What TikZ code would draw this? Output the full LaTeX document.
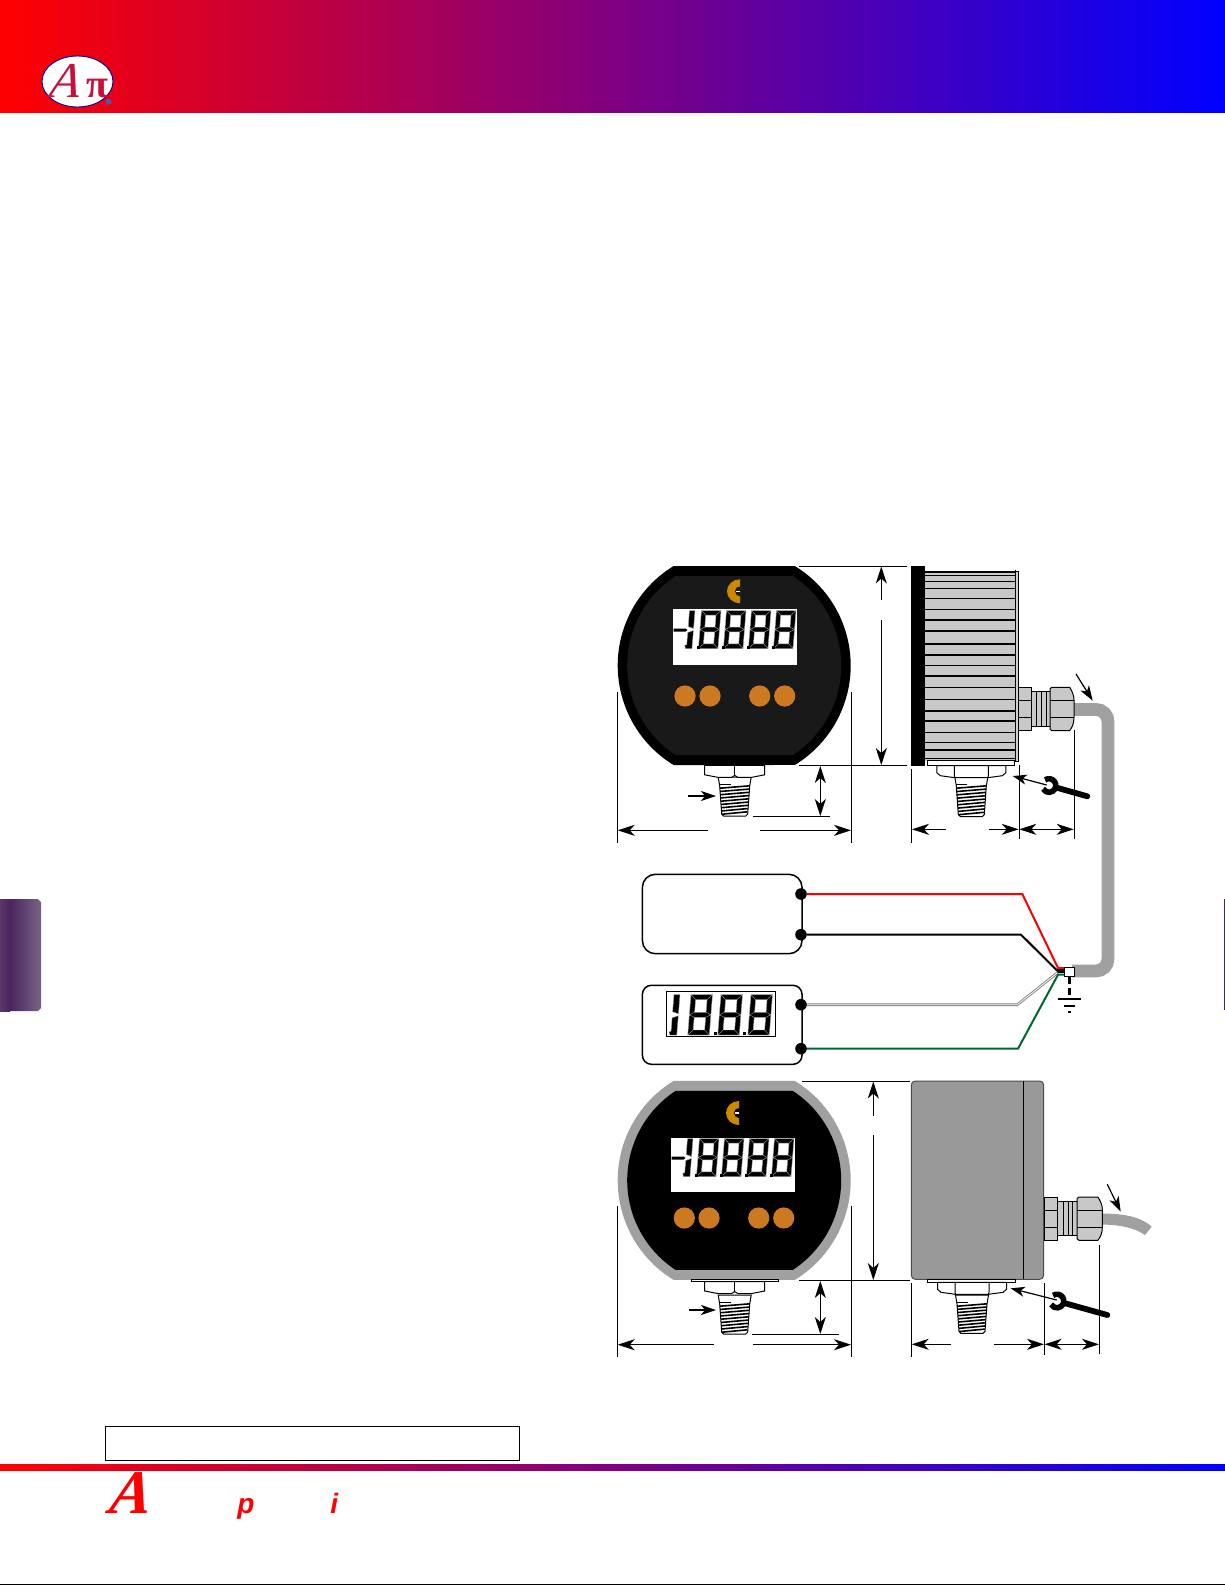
\documentclass[tikz,border=0pt]{standalone}
\usepackage{fontspec}
\setmainfont{Liberation Serif}
\setsansfont{Liberation Sans}
\usetikzlibrary{arrows.meta,calc}
\definecolor{btn}{HTML}{CB7A22}
\definecolor{icon}{HTML}{CC8800}
\definecolor{fin}{HTML}{C8C8C8}
\definecolor{cable}{HTML}{A0A0A0}
\definecolor{wgreen}{HTML}{006633}
\definecolor{crim}{HTML}{C8103C}
\definecolor{purpA}{HTML}{5A3868}
\definecolor{purpB}{HTML}{4A2460}
\definecolor{purpC}{HTML}{7A6385}
\definecolor{regmark}{HTML}{4A5AA8}
\tikzset{
  thin1/.style={line width=0.5pt,draw=black},
  dimline/.style={line width=0.5pt,draw=black},
  dimtip/.style={dimline,-{Stealth[length=8.5pt,width=5.5pt,inset=2.5pt]}},
  dimboth/.style={dimline,{Stealth[length=8.5pt,width=5.5pt,inset=2.5pt]}-{Stealth[length=8.5pt,width=5.5pt,inset=2.5pt]}},
  ptrtip/.style={line width=0.6pt,draw=black,-{Stealth[length=7.5pt,width=5pt,inset=2pt]}},
  dotnode/.style={circle,fill=black,inner sep=0pt,minimum size=5.8pt},
  boxnode/.style={draw=black,line width=0.75pt,fill=white,inner sep=0pt,outer sep=0pt},
  wire/.style={line width=1pt,line join=miter},
  part/.style={draw=black,line width=0.5pt,fill=white},
  grey part/.style={draw=black,line width=0.5pt,fill=fin},
}
% meter body: cx cy radius halfflat-distance fill
\newcommand{\meterbody}[5]{%
  \pgfmathsetmacro\mang{asin(#4/#3)}%
  \pgfmathsetmacro\mhc{#3*cos(\mang)}%
  \pgfmathsetmacro\mrr{#3*0.5}%
  \fill[#5] ({#1-\mhc},{#2-#4}) -- ({#1+\mhc},{#2-#4})
    arc[start angle=\mang,end angle=-\mang,radius=\mrr pt]
    -- ({#1-\mhc},{#2+#4})
    arc[start angle=180+\mang,end angle=180-\mang,radius=\mrr pt] -- cycle;}
% seven segment digit: x y w h t
\newcommand{\segdig}[5]{%
  \begin{scope}[shift={(#1,#2)},xslant=0.08]
  \pgfmathsetmacro\wa{#3-#5}\pgfmathsetmacro\ha{#4-#5}\pgfmathsetmacro\hm{#4/2}
  \pgfmathsetmacro\hu{#4/2-#5/2}\pgfmathsetmacro\hl{#4/2+#5/2}
  \filldraw[fill=black,draw=gray!70,line width=0.2pt]
   (0,0)--(#3,0)--(\wa,#5)--(#5,#5)--cycle
   (0,#4)--(#3,#4)--(\wa,\ha)--(#5,\ha)--cycle
   (0,0)--(#5,#5)--(#5,\hu)--(0,\hm)--cycle
   (0,\hm)--(#5,\hl)--(#5,\ha)--(0,#4)--cycle
   (#3,0)--(\wa,#5)--(\wa,\hu)--(#3,\hm)--cycle
   (#3,\hm)--(\wa,\hl)--(\wa,\ha)--(#3,#4)--cycle
   (0,\hm)--(#5,\hu)--(\wa,\hu)--(#3,\hm)--(\wa,\hl)--(#5,\hl)--cycle;
  \end{scope}}
% one-digit: x y h t
\newcommand{\segone}[4]{%
  \begin{scope}[shift={(#1,#2)},xslant=0.08]
  \pgfmathsetmacro\hm{#3/2}
  \filldraw[fill=black,draw=gray!70,line width=0.2pt]
   (3,0)--(3+#4,0)--(3+#4,\hm-1)--(3,\hm-3)--cycle
   (3,\hm+3)--(3+#4,\hm+1)--(3+#4,#3)--(2,#3)--(1,#3-3)--(3,#3-4)--cycle;
  \end{scope}}
% LCD block: x offset y
\newcommand{\lcd}[2]{%
  \begin{scope}[shift={(#1,#2)}]
  \fill (0,18.5) -- (12,18.5) -- (14,20) -- (12,21.5) -- (0,21.5) -- cycle;
  \segone{13}{0.5}{38}{5.5}
  \foreach \dx in {28,53,78,103}{\segdig{\dx}{0.5}{19.5}{38}{4.6}}
  \foreach \dx in {23.5,48.5,73.5,98.5}{\fill (\dx,36) rectangle +(2.6,2.6);}
  \end{scope}}
% C icon
\newcommand{\cicon}[3]{%
  \begin{scope}[shift={(#1,#2)}]
  \fill[icon] (0,-12) arc[start angle=90,end angle=270,x radius=6.5pt,y radius=6pt] -- cycle;
  \fill[#3] (0,-5) arc[start angle=90,end angle=270,radius=2.5pt] -- cycle;
  \fill[white] (-4.5,-0.7) rectangle (0,0.7);
  \end{scope}}
% thread: centre x, top y, bottom y
\newcommand{\thread}[3]{%
  \begin{scope}[shift={(#1,#2)}]
  \pgfmathsetmacro\tl{#3-#2}
  \filldraw[part] (-16.5,-9) -- (16.5,-9) -- (15,0) -- (13,\tl-2) -- (11,\tl) -- (-11,\tl) -- (-13,\tl-2) -- (-15,0) -- cycle;
  \foreach \k in {0,...,8}{
    \pgfmathsetmacro\ya{1+\k*(\tl-4)/8}
    \pgfmathsetmacro\hw{15-\k*0.28}
    \draw[line width=0.8pt] (-\hw,\ya+1.2) -- (\hw,\ya-1.2);}
  \draw[line width=0.45pt] (-15,-2) -- (-4,-2);
  \end{scope}}
% front nut: centre x, top y
\newcommand{\frontnut}[2]{%
  \begin{scope}[shift={(#1,#2)}]
  \filldraw[part] (-30,0) -- (-30,9.5) -- (-17,12) -- (-3,12) -- (0,10) -- (3,12) -- (17,12) -- (30,9.5) -- (30,0) -- cycle;
  \draw[line width=0.5pt] (0,0) -- (0,10);
  \end{scope}}
% side nut: centre x, top y
\newcommand{\sidenut}[2]{%
  \begin{scope}[shift={(#1,#2)}]
  \filldraw[part] (-34.5,0) -- (-34.5,7) -- (-31,10) -- (-16.5,12) -- (16.5,12) -- (31,10) -- (34.5,7) -- (34.5,0) -- cycle;
  \draw[line width=0.5pt] (-17,0) -- (-17,10) -- (-16.5,12) (17,0) -- (17,10) -- (16.5,12);
  \end{scope}}
% gland: x y xscale
\newcommand{\gland}[3]{%
  \begin{scope}[shift={(#1,#2)},xscale=#3]
  \filldraw[grey part] (0,0) rectangle (13,43.3);
  \draw[line width=0.5pt] (0,13.4) -- (13,13.4) (0,30) -- (13,30);
  \filldraw[grey part] (13,4) rectangle (31.3,38.7);
  \draw[line width=0.5pt] (18,4) -- (18,38.7) (23,4) -- (23,38.7) (27.3,4) -- (27.3,38.7);
  \filldraw[grey part] (31.3,1.5) -- (33,0) -- (51,0) .. controls (53.5,4) and (55.3,8) .. (55.3,13) -- (55.3,30) .. controls (55.3,36) and (53.5,40) .. (51,43.3) -- (33,43.3) -- (31.3,41.8) -- cycle;
  \draw[line width=0.5pt] (31.3,13.4) -- (55.3,13.4) (31.3,30) -- (55.3,30);
  \end{scope}}
% wrench: head x y, handle end x y
\newcommand{\wrench}[4]{%
  \coordinate (wh) at (#1,#2);
  \coordinate (we) at (#3,#4);
  \draw[line width=2.9pt,line cap=round] ($(wh)!4pt!(we)$) -- (we);
  \begin{scope}[shift={(#1,#2)}]
  \draw[line width=2.8pt,line cap=butt] (125:3.4pt) arc[start angle=125,end angle=-150,radius=3.4pt];
  \end{scope}}
\begin{document}
\begin{tikzpicture}[x=0.5pt,y=-0.5pt]
\useasboundingbox (0,0) rectangle (1225,1585);
\fill[white] (0,0) rectangle (1225,1585);
% header and footer
\shade[left color=red,right color=blue] (0,0) rectangle (1225,112.5);
\shade[left color=red,right color=blue] (0,1464) rectangle (1225,1470);
\draw[line width=0.6pt] (0,1584.4) -- (1225,1584.4);
\draw[line width=0.5pt,draw=purpB] (1224.5,899) -- (1224.5,1010);
% side tab
\shade[left color=purpA,right color=purpB] (0,899) rectangle (10,1011);
\shade[left color=purpB,right color=purpC] (10,899) -- (38,899) -- (41,902) -- (41,1008) -- (38,1011) -- (10,1011) -- cycle;
% logo
\filldraw[fill=white,draw=blue!60!black,line width=0.45pt] (77.5,81.5) ellipse [x radius=17.75pt,y radius=12.75pt];
\node[text=crim,font=\fontsize{25}{25}\selectfont\itshape,inner sep=0pt,anchor=base,xslant=0.15,transform shape] (logoA) at (64,97) {A};
\node[text=crim,font=\fontsize{20}{20}\selectfont\bfseries,inner sep=0pt,anchor=base] (logoP) at (97,97) {π};
\fill[regmark] (108.7,101.7) circle[radius=1.5pt];
% footer box and letters
\node[boxnode,draw=black,line width=0.5pt,fill=none,minimum width=207pt,minimum height=17pt] (footbox) at (312,1443.3) {};
\node[text=red,font=\fontsize{31}{31}\selectfont\bfseries\itshape,inner sep=0pt,anchor=base west,xslant=0.15,transform shape] (footA) at (108,1513) {A};
\node[text=red,font=\sffamily\fontsize{14}{14}\selectfont\bfseries\itshape,inner sep=0pt,anchor=base west] (footp) at (237,1513) {p};
\node[text=red,font=\sffamily\fontsize{14}{14}\selectfont\bfseries\itshape,inner sep=0pt,anchor=base west] (footi) at (330,1513) {i};

%% ---- device 1 front
\meterbody{734.2}{665.5}{116.5}{99.5}{black}
\meterbody{734.2}{665.5}{107}{89.5}{black!90}
\fill[white] (673.3,609.3) rectangle (797.3,665.3);
\lcd{673.5}{610}
\cicon{740}{591.3}{black!90}
\foreach \bx in {685,710,759.7,784.7}{\fill[btn] (\bx,696) circle[radius=5.3pt];}
\thread{734.7}{786}{816}
\frontnut{734.7}{765.3}
% dims
\draw[dimline] (799,566) -- (907,566) (799,765.3) -- (907,765.3);
\draw[dimtip] (881.3,600) -- (881.3,566.5);
\draw[dimtip] (881.3,620) -- (881.3,765);
\draw[dimboth] (820.3,766) -- (820.3,816);
\draw[dimline] (753,816.3) -- (830,816.3);
\draw[ptrtip] (688,796) -- (716,796);
\draw[dimline] (617.3,691.7) -- (617.3,842.7) (851.3,691.7) -- (851.3,842.7);
\draw[dimtip] (708,830.3) -- (617.7,830.3);
\draw[dimtip] (760,830.3) -- (851,830.3);

%% ---- device 1 side
\fill (911,566) rectangle (925,766);
\filldraw[fill=fin!85!white,draw=black,line width=0.4pt] (1015.3,571) rectangle (1018.7,761);
\fill[fin] (925,571) rectangle (1015.3,761);
\foreach \z in {66,76,95,115,145,178,210,243,282,315,347,378,412,448,513,547,577,600,625}{
  \draw[line width=0.6pt] (925,{550+\z/3}) -- (1015.3,{550+\z/3});}
\draw[line width=1pt] (925,711) -- (1015.3,711);
\draw[line width=0.5pt] (1015.3,570) -- (1015.3,762);
\filldraw[part] (927,760.7) rectangle (1014,765.7);
\thread{971.3}{786}{816.5}
\sidenut{971.3}{765.7}
% cable and gland
\coordinate (cabA) at (1074,709.5);
\coordinate (cabB) at (1108,709.5);
\coordinate (cabC) at (1108,971);
\coordinate (cabD) at (1072,971);
\draw[draw=cable,line width=6.4pt,rounded corners=6pt] (cabA) -- (cabB) -- (cabC) -- (cabD);
\gland{1018.7}{687.3}{1}
% side dims
\draw[dimline] (911.7,769) -- (911.7,842.7) (1019,765) -- (1019,839) (1074,730) -- (1074,839);
\draw[dimtip] (946,829.3) -- (912,829.3);
\draw[dimtip] (989,829.3) -- (1018.7,829.3);
\draw[dimboth] (1019.3,829.3) -- (1073.7,829.3);
\draw[ptrtip] (1076,674) -- (1092.7,700.7);
\wrench{1049}{785.5}{1087.3}{796.3}
\draw[line width=0.6pt,draw=black,-{Stealth[length=7pt,width=5pt,inset=2pt]}] (1046.7,785) -- (1012.7,776);

%% ---- wiring
\node[boxnode,rounded corners=6.5pt,minimum width=79.8pt,minimum height=39.7pt] (psu) at (722.2,914) {};
\node[boxnode,rounded corners=4.5pt,minimum width=79.8pt,minimum height=39.5pt] (panel) at (722.2,1024.8) {};
\node[draw=black,line width=0.5pt,fill=white,inner sep=0pt,minimum width=54.7pt,minimum height=22.5pt] (pdisp) at (721,1013.8) {};
\segone{671}{994.5}{40.5}{6}
\segdig{691}{994.5}{21.5}{40.5}{5}
\segdig{721}{994.5}{21.5}{40.5}{5}
\segdig{751}{994.5}{21.5}{40.5}{5}
\fill (713.5,1032) rectangle +(3,3);
\fill (743,1032) rectangle +(3,3);
\node[dotnode] (dr) at (801,894) {};
\node[dotnode] (db) at (801,934.7) {};
\node[dotnode] (dw) at (801,1004.7) {};
\node[dotnode] (dg) at (801,1048.7) {};
\coordinate (jr) at (1058,968);
\coordinate (jb) at (1057.3,970.7);
\coordinate (jw) at (1057.5,972.7);
\coordinate (jg) at (1058,974.7);
\node[draw=black,line width=0.6pt,fill=white,inner sep=0pt,outer sep=0pt,minimum width=5.2pt,minimum height=4.8pt] (term) at (1069.5,972) {};
\draw[draw=red,wire] (dr) -- (1022.3,894) -- (jr) -- (term.west |- jr);
\draw[draw=black,wire] (db) -- (1021,934.7) -- (jb);
\draw[draw=black,line width=2pt] (jb) -- (term.west |- jb);
\draw[draw=gray,line width=1.3pt] (dw) -- (1017.3,1004.7) -- (jw);
\draw[draw=white,line width=0.4pt] (dw) -- (1017.3,1004.7) -- (jw);
\draw[draw=wgreen,wire] (dg) -- (1018,1048.7) -- (jg) -- (term.west |- jg);
\coordinate (gnd) at (1069.5,998.7);
\draw[line width=1.1pt,dash pattern=on 3.5pt off 2pt] (term.south) -- (gnd);
\draw[line width=1.1pt] (1057.7,998.7) -- (1080.7,998.7) (1064,1006) -- (1075,1006) (1068,1011.7) -- (1071,1011.7);

%% ---- device 2 front
\meterbody{734.2}{1180.4}{116.5}{99.5}{cable}
\meterbody{734.2}{1180.4}{107}{89.5}{black}
\fill[white] (671,1138) rectangle (795,1192);
\lcd{671.5}{1138}
\cicon{739}{1113}{black}
\foreach \bx in {684.3,709,758.7,783.7}{\fill[btn] (\bx,1218) circle[radius=5.3pt];}
\filldraw[part] (691.3,1279.7) rectangle (778.7,1281.7);
\thread{734.7}{1304}{1334}
\frontnut{734.7}{1281.5}
\draw[dimline] (802,1081) -- (910,1081) (799,1280.3) -- (910,1280.3);
\draw[dimtip] (873.3,1115.7) -- (873.3,1081.5);
\draw[dimtip] (873.3,1135) -- (873.3,1280);
\draw[dimboth] (820.3,1281) -- (820.3,1334);
\draw[dimline] (752,1334.3) -- (839,1334.3);
\draw[ptrtip] (689,1310) -- (716,1310);
\draw[dimline] (617.3,1206) -- (617.3,1357.3) (851.3,1206) -- (851.3,1357.3);
\draw[dimtip] (714,1344.7) -- (617.7,1344.7);
\draw[dimtip] (753,1344.7) -- (851,1344.7);

%% ---- device 2 side
\filldraw[fill=black!40,draw=black!70,line width=0.5pt,rounded corners=2pt] (911.3,1081) rectangle (1043.7,1279.3);
\draw[line width=0.6pt] (1023.3,1081) -- (1023.3,1279.3);
\filldraw[part] (927.7,1279.3) rectangle (1015.3,1282.3);
\thread{972}{1304}{1333.3}
\sidenut{972}{1282.3}
\fill[cable] (1100,1213.5) .. controls (1122,1213.5) and (1140,1216) .. (1151.7,1226.7) -- (1145,1235) .. controls (1135,1228) and (1120,1224.5) .. (1100,1224.5) -- cycle;
\gland{1044.3}{1197}{1.05}
\draw[dimline] (911.3,1283) -- (911.3,1356.7) (1044.3,1283) -- (1044.3,1355) (1099.3,1245) -- (1099.3,1354);
\draw[dimtip] (951,1344.3) -- (911.7,1344.3);
\draw[dimtip] (994,1344.3) -- (1044,1344.3);
\draw[dimboth] (1044.6,1344.3) -- (1099,1344.3);
\draw[ptrtip] (1107.3,1184.3) -- (1120.7,1211.7);
\wrench{1057}{1301}{1107.3}{1315}
\draw[line width=0.6pt,draw=black,-{Stealth[length=7pt,width=5pt,inset=2pt]}] (1056.7,1300) -- (1010.7,1288.3);
\end{tikzpicture}
\end{document}
